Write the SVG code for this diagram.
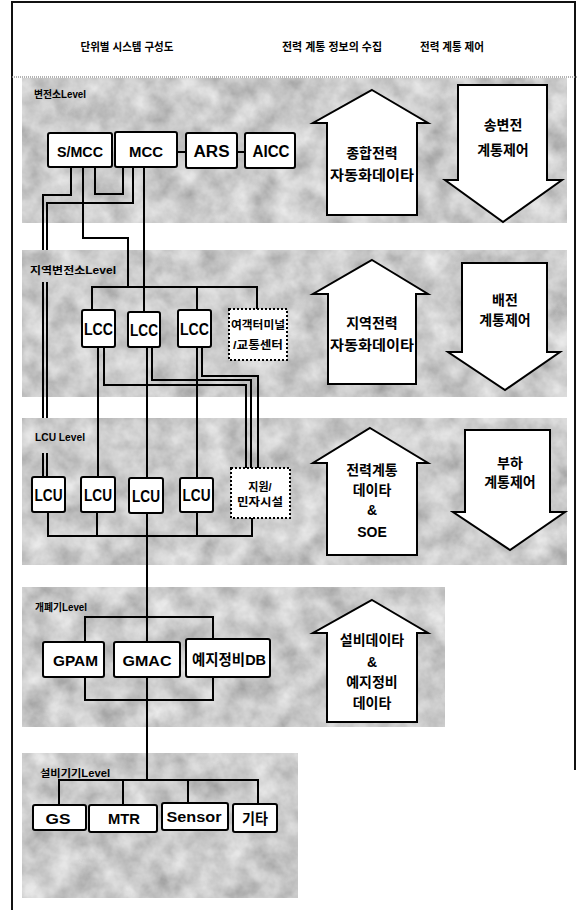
<svg xmlns="http://www.w3.org/2000/svg" width="578" height="910" viewBox="0 0 578 910">
<defs>
<filter id="mottle" x="0" y="0" width="100%" height="100%">
<feTurbulence type="fractalNoise" baseFrequency="0.04" numOctaves="4" seed="7" result="n"/>
<feColorMatrix in="n" type="matrix" values="0.6 0 0 0 0.3  0.6 0 0 0 0.3  0.6 0 0 0 0.3  0 0 0 0 1" result="g"/>
<feComposite in="g" in2="SourceGraphic" operator="in"/>
</filter>
<style>
text{font-family:"Liberation Sans","Noto Sans CJK KR",sans-serif;fill:#000;}
.band{fill:#bbb;filter:url(#mottle);}
.box{fill:#fff;stroke:#000;stroke-width:2;}
.dbox{fill:#fff;stroke:#000;stroke-width:2;stroke-dasharray:2 2;}
.arrow{fill:#fff;stroke:#000;stroke-width:2;stroke-linejoin:miter;}
.lbl{font-size:15px;font-weight:bold;text-anchor:middle;dominant-baseline:central;}
.alab{font-size:14px;font-weight:bold;text-anchor:middle;dominant-baseline:central;}
.lvl{font-size:10px;font-weight:bold;}
.hdr{font-size:11px;font-weight:bold;text-anchor:middle;dominant-baseline:central;}
.small{font-size:11px;font-weight:bold;text-anchor:middle;dominant-baseline:central;}
#connectors path{fill:none;stroke:#000;stroke-width:2;}
</style>
</defs>
<rect width="578" height="910" fill="#fff"/>
<path d="M12,910 V2 H575 V770" fill="none" stroke="#111" stroke-width="2"/>
<line x1="12" y1="77" x2="578" y2="77" stroke="#999" stroke-width="1.5" stroke-dasharray="1 1"/>
<g id="headers">
<text class="hdr" x="127" y="47" textLength="93" lengthAdjust="spacingAndGlyphs">단위별 시스템 구성도</text>
<text class="hdr" x="332" y="47" textLength="100" lengthAdjust="spacingAndGlyphs">전력 계통 정보의 수집</text>
<text class="hdr" x="452" y="47" textLength="64" lengthAdjust="spacingAndGlyphs">전력 계통 제어</text>
</g>
<g id="bands">
<rect class="band" x="22" y="78" width="545" height="145"/>
<rect class="band" x="22" y="250" width="545" height="147"/>
<rect class="band" x="22" y="418" width="545" height="147"/>
<rect class="band" x="22" y="587" width="423" height="140"/>
<rect class="band" x="22" y="753" width="276" height="145"/>
</g>
<g id="connectors">
<path d="M71,167 V195 H43 V250 M43,282 V418 M43,453 V477"/>
<path d="M133,167 V203 H47 V250 M47,282 V418 M47,453 V477"/>
<path d="M83,167 V238 H128 V287"/>
<path d="M95,167 V194 H123 V167"/>
<path d="M144,167 V312"/>
<path d="M177,152 H186 M237,152 H245"/>
<path d="M92,310 V287 H257 V309 M197,287 V310"/>
<path d="M98,347 V477 M104,347 V385 H246 V468"/>
<path d="M147,347 V478 M152,347 V380 H251 V468"/>
<path d="M197,347 V478 M202,347 V376 H258 V468"/>
<path d="M48,512 V536 H252 V518 M97,512 V536 M197,512 V536"/>
<path d="M147,513 V642 M147,677 V780"/>
<path d="M85,642 V617 H213 V639 M85,677 V700 H213 V677"/>
<path d="M59,805 V780 H258 V804 M123,780 V805 M188,780 V803"/>
</g>
<g id="levels">
<text class="lvl" x="34" y="98" textLength="52" lengthAdjust="spacingAndGlyphs">변전소Level</text>
<text class="lvl" x="30" y="274" textLength="86" lengthAdjust="spacingAndGlyphs">지역변전소Level</text>
<text class="lvl" x="35" y="441" textLength="50" lengthAdjust="spacingAndGlyphs">LCU Level</text>
<text class="lvl" x="35" y="611" textLength="52" lengthAdjust="spacingAndGlyphs">개폐기Level</text>
<text class="lvl" x="40" y="777" textLength="70" lengthAdjust="spacingAndGlyphs">설비기기Level</text>
</g>
<g id="smcc"><rect class="box" x="48" y="133" width="64" height="34" rx="2"/><text class="lbl" x="80" y="151" textLength="46" lengthAdjust="spacingAndGlyphs">S/MCC</text></g>
<g id="mcc"><rect class="box" x="115" y="132" width="62" height="35" rx="2"/><text class="lbl" x="146" y="151" textLength="34" lengthAdjust="spacingAndGlyphs">MCC</text></g>
<g id="ars"><rect class="box" x="186" y="133" width="51" height="35" rx="2"/><text class="lbl" x="211.5" y="151" style="font-size:16px" textLength="36" lengthAdjust="spacingAndGlyphs">ARS</text></g>
<g id="aicc"><rect class="box" x="245" y="133" width="50" height="35" rx="2"/><text class="lbl" x="271" y="151" style="font-size:16px" textLength="37" lengthAdjust="spacingAndGlyphs">AICC</text></g>
<g id="lcc1"><rect class="box" x="82" y="310" width="33" height="37" rx="2"/><text class="lbl" x="98.5" y="329" style="font-size:16px" textLength="29" lengthAdjust="spacingAndGlyphs">LCC</text></g>
<g id="lcc2"><rect class="box" x="128" y="312" width="32" height="35" rx="2"/><text class="lbl" x="144" y="330" style="font-size:16px" textLength="28" lengthAdjust="spacingAndGlyphs">LCC</text></g>
<g id="lcc3"><rect class="box" x="178" y="310" width="33" height="37" rx="2"/><text class="lbl" x="194.5" y="329" style="font-size:16px" textLength="29" lengthAdjust="spacingAndGlyphs">LCC</text></g>
<g id="terminal"><rect class="dbox" x="229" y="309" width="58" height="51"/><text class="small" x="258" y="325" textLength="54" lengthAdjust="spacingAndGlyphs">여객터미널</text><text class="small" x="258" y="345" textLength="50" lengthAdjust="spacingAndGlyphs">/교통센터</text></g>
<g id="lcu1"><rect class="box" x="32" y="477" width="33" height="35" rx="2"/><text class="lbl" x="48.5" y="495" style="font-size:16px" textLength="28" lengthAdjust="spacingAndGlyphs">LCU</text></g>
<g id="lcu2"><rect class="box" x="81" y="477" width="34" height="35" rx="2"/><text class="lbl" x="98" y="495" style="font-size:16px" textLength="28" lengthAdjust="spacingAndGlyphs">LCU</text></g>
<g id="lcu3"><rect class="box" x="129" y="478" width="34" height="35" rx="2"/><text class="lbl" x="146" y="496" style="font-size:16px" textLength="28" lengthAdjust="spacingAndGlyphs">LCU</text></g>
<g id="lcu4"><rect class="box" x="180" y="478" width="33" height="34" rx="2"/><text class="lbl" x="196.5" y="495" style="font-size:16px" textLength="28" lengthAdjust="spacingAndGlyphs">LCU</text></g>
<g id="support"><rect class="dbox" x="231" y="468" width="59" height="50"/><text class="small" x="260" y="487">지원/</text><text class="small" x="260" y="502" textLength="46" lengthAdjust="spacingAndGlyphs">민자시설</text></g>
<g id="gpam"><rect class="box" x="43" y="642" width="61" height="35" rx="2"/><text class="lbl" x="75.5" y="660" textLength="45" lengthAdjust="spacingAndGlyphs">GPAM</text></g>
<g id="gmac"><rect class="box" x="114" y="642" width="66" height="35" rx="2"/><text class="lbl" x="147" y="660" textLength="49" lengthAdjust="spacingAndGlyphs">GMAC</text></g>
<g id="pmdb"><rect class="box" x="186" y="639" width="84" height="38" rx="2"/><text class="lbl" x="229" y="659" textLength="74" lengthAdjust="spacingAndGlyphs">예지정비DB</text></g>
<g id="gs"><rect class="box" x="33" y="805" width="53" height="25" rx="2"/><text class="lbl" x="58" y="818" textLength="25" lengthAdjust="spacingAndGlyphs">GS</text></g>
<g id="mtr"><rect class="box" x="89" y="805" width="68" height="27" rx="2"/><text class="lbl" x="124" y="818" textLength="32" lengthAdjust="spacingAndGlyphs">MTR</text></g>
<g id="sensor"><rect class="box" x="162" y="803" width="66" height="27" rx="2"/><text class="lbl" x="194" y="817" style="font-size:14px" textLength="55" lengthAdjust="spacingAndGlyphs">Sensor</text></g>
<g id="etc"><rect class="box" x="233" y="804" width="44" height="28" rx="2"/><text class="lbl" x="255" y="818" textLength="26" lengthAdjust="spacingAndGlyphs">기타</text></g>
<g id="arrow-up1"><path class="arrow" d="M372,90 L428,123 H417 V215 H327 V123 H313 Z"/><text class="alab" x="372" y="153">종합전력</text><text class="alab" x="372" y="175" textLength="84" lengthAdjust="spacingAndGlyphs">자동화데이타</text></g>
<g id="arrow-down1"><path class="arrow" d="M458,85 H547 V180 H562 L503,222 L445,180 H458 Z"/><text class="alab" x="503" y="125">송변전</text><text class="alab" x="503" y="150">계통제어</text></g>
<g id="arrow-up2"><path class="arrow" d="M372,260 L428,294 H416 V384 H328 V294 H313 Z"/><text class="alab" x="372" y="323">지역전력</text><text class="alab" x="372" y="345" textLength="84" lengthAdjust="spacingAndGlyphs">자동화데이타</text></g>
<g id="arrow-down2"><path class="arrow" d="M462,263 H547 V352 H560 L505,390 L448,352 H462 Z"/><text class="alab" x="505" y="300">배전</text><text class="alab" x="505" y="320">계통제어</text></g>
<g id="arrow-up3"><path class="arrow" d="M370,428 L428,463 H417 V555 H327 V463 H313 Z"/><text class="alab" x="372" y="470">전력계통</text><text class="alab" x="372" y="490">데이타</text><text class="alab" x="372" y="510">&amp;</text><text class="alab" x="372" y="532">SOE</text></g>
<g id="arrow-down3"><path class="arrow" d="M465,430 H550 V512 H565 L510,550 L453,512 H465 Z"/><text class="alab" x="510" y="463">부하</text><text class="alab" x="510" y="482">계통제어</text></g>
<g id="arrow-up4"><path class="arrow" d="M372,600 L428,633 H417 V722 H327 V633 H313 Z"/><text class="alab" x="372" y="640">설비데이타</text><text class="alab" x="372" y="662">&amp;</text><text class="alab" x="372" y="682">예지정비</text><text class="alab" x="372" y="703">데이타</text></g>
</svg>
